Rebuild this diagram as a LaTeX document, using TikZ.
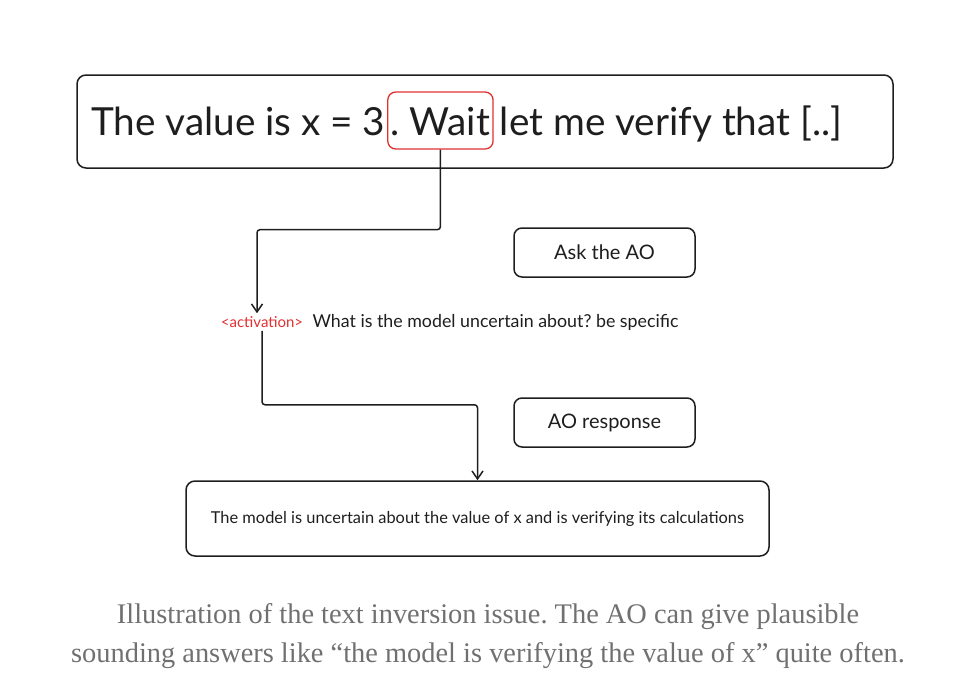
\documentclass[tikz,border=0pt]{standalone}
\usepackage{fontspec}
\setmainfont{Liberation Serif}
\newfontfamily\sketchfont{Lato}
\usetikzlibrary{arrows.meta,positioning}
\definecolor{SketchInk}{RGB}{30,30,30}
\definecolor{SketchRed}{RGB}{224,49,49}
\definecolor{CaptionGrey}{RGB}{112,112,112}
\frenchspacing

\begin{document}
\begin{tikzpicture}[x=1pt, y=-1pt,
                every node/.style={font=\sketchfont, text=SketchInk, inner sep=0pt},
                big/.style={font=\sketchfont\fontsize{38.7}{42}\selectfont},
                panel/.style={draw=SketchInk, line width=1.5pt, rounded corners=9pt},
                tag/.style={draw=SketchInk, line width=1.5pt, rounded corners=8pt, minimum width=181pt, minimum height=49pt, font=\sketchfont\fontsize{20}{24}\selectfont},
                highlight/.style={draw=SketchRed, line width=1.3pt, rounded corners=8pt, inner xsep=3pt, inner ysep=5pt, text height=38pt, text depth=9pt},
                flow/.style={draw=SketchInk, line width=1.5pt, rounded corners=3pt, -{Straight Barb[length=8pt, width=11pt]}}]

                \useasboundingbox (0,0) rectangle (954,686);

                % Sentence
                \node[panel, minimum width=816pt, minimum height=93pt] (sentence) at (485,121.5) {};
                \node[big, anchor=base west] (pre) at (91,135) {The value is x = 3};
                \node[big, highlight, anchor=base west] (wait) at ([xshift=1.5pt]pre.base east) {. Wait};
                \node[big, anchor=base west] (post) at ([xshift=6pt]wait.base east) {let me verify that [..]};

                % Query
                \node[tag] (ask) at (604.5,252.5) {Ask the AO};
                \node[font=\sketchfont\fontsize{15}{18}\selectfont, text=SketchRed, inner sep=3pt] (act) at (262,322) {<activation>};
                \node[font=\sketchfont\fontsize{17.8}{22}\selectfont, anchor=west] (question) at ([xshift=6pt]act.east) {What is the model uncertain about? be specific};

                % Answer
                \node[tag] (resp) at (604.5,422.5) {AO response};
                \node[panel, minimum width=583pt, minimum height=75pt, font=\sketchfont\fontsize{16.4}{20}\selectfont] (answer) at (477.5,518.5) {The model is uncertain about the value of x and is verifying its calculations};

                % Edges
                \draw[flow] (wait.south) -- ++(0,80) -| ([xshift=-5pt]act.north);
                \draw[flow] (act.south) -- ++(0,74) -| (answer.north);

                % Caption
                \node[font=\fontsize{28.4}{39}\selectfont, text=CaptionGrey, align=center] (caption) at (488,636) {Illustration of the text inversion issue. The AO can give plausible\\sounding answers like “the model is verifying the value of x” quite often.};
            \end{tikzpicture}
\end{document}
